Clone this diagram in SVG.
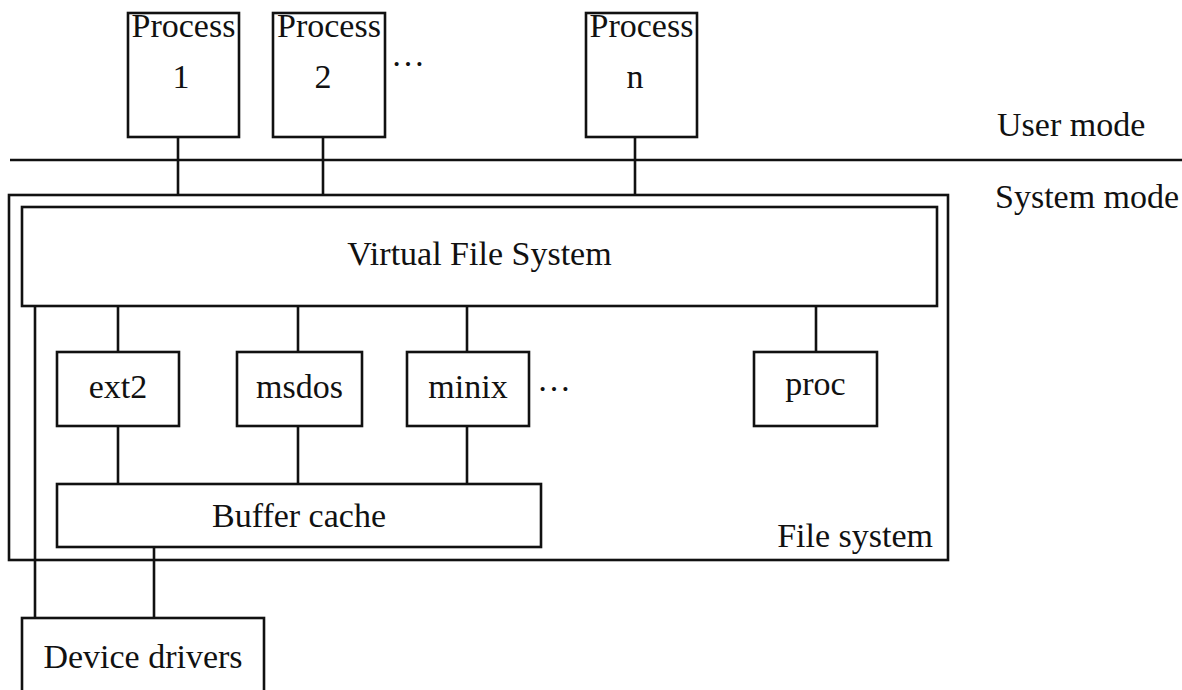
<svg xmlns="http://www.w3.org/2000/svg" width="1182" height="690" viewBox="0 0 1182 690">
  <style>
    .box { fill: #fff; stroke: #111; stroke-width: 2.6; }
    .frame { fill: none; stroke: #111; stroke-width: 2.6; }
    .wire { fill: none; stroke: #111; stroke-width: 2.6; }
    text { font-family: "Liberation Serif", "Times New Roman", serif; font-size: 34px; fill: #111; }
    .c { text-anchor: middle; }
    .r { text-anchor: end; }
  </style>
  <rect width="1182" height="690" fill="#fff"/>

  <!-- user / system mode divider -->
  <g id="mode-divider">
    <line class="wire" x1="10" y1="160" x2="1182" y2="160"/>
    <text x="997" y="136">User mode</text>
    <text x="995" y="208">System mode</text>
  </g>

  <!-- connectors -->
  <g id="connectors">
    <line class="wire" x1="178" y1="137" x2="178" y2="195"/>
    <line class="wire" x1="323" y1="137" x2="323" y2="195"/>
    <line class="wire" x1="635" y1="137" x2="635" y2="195"/>
    <line class="wire" x1="118" y1="306" x2="118" y2="352"/>
    <line class="wire" x1="298" y1="306" x2="298" y2="352"/>
    <line class="wire" x1="467" y1="306" x2="467" y2="352"/>
    <line class="wire" x1="816" y1="306" x2="816" y2="352"/>
    <line class="wire" x1="118" y1="426" x2="118" y2="484"/>
    <line class="wire" x1="298" y1="426" x2="298" y2="484"/>
    <line class="wire" x1="467" y1="426" x2="467" y2="484"/>
    <line class="wire" x1="35" y1="306" x2="35" y2="618"/>
    <line class="wire" x1="154" y1="547" x2="154" y2="618"/>
  </g>

  <!-- file system frame -->
  <g id="file-system">
    <rect class="frame" x="9" y="195" width="939" height="365"/>
    <text class="r" x="933" y="547">File system</text>
  </g>

  <g id="process-1">
    <rect class="box" x="128" y="13" width="111" height="124"/>
    <text class="c" x="183.5" y="37">Process</text>
    <text class="c" x="181" y="88">1</text>
  </g>
  <g id="process-2">
    <rect class="box" x="273" y="13" width="112" height="124"/>
    <text class="c" x="329" y="37">Process</text>
    <text class="c" x="323" y="88">2</text>
  </g>
  <g id="process-dots">
    <text x="391" y="66">…</text>
  </g>
  <g id="process-n">
    <rect class="box" x="586" y="13" width="111" height="124"/>
    <text class="c" x="641.5" y="37">Process</text>
    <text class="c" x="635" y="88">n</text>
  </g>

  <g id="vfs">
    <rect class="box" x="22" y="207" width="915" height="99"/>
    <text class="c" x="479.5" y="265">Virtual File System</text>
  </g>

  <g id="ext2">
    <rect class="box" x="57" y="352" width="122" height="74"/>
    <text class="c" x="118" y="398">ext2</text>
  </g>
  <g id="msdos">
    <rect class="box" x="237" y="352" width="125" height="74"/>
    <text class="c" x="299.5" y="398">msdos</text>
  </g>
  <g id="minix">
    <rect class="box" x="407" y="352" width="122" height="74"/>
    <text class="c" x="468" y="398">minix</text>
  </g>
  <g id="fs-dots">
    <text x="537" y="391">…</text>
  </g>
  <g id="proc">
    <rect class="box" x="754" y="352" width="123" height="74"/>
    <text class="c" x="815.5" y="395">proc</text>
  </g>

  <g id="buffer-cache">
    <rect class="box" x="57" y="484" width="484" height="63"/>
    <text class="c" x="299" y="527">Buffer cache</text>
  </g>

  <g id="device-drivers">
    <rect class="box" x="22" y="618" width="242" height="90"/>
    <text class="c" x="143" y="668">Device drivers</text>
  </g>
</svg>
